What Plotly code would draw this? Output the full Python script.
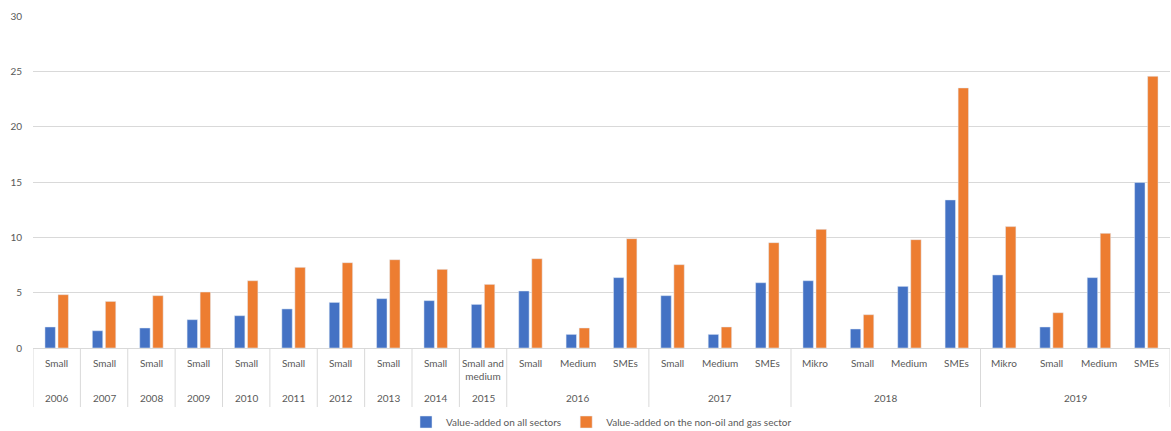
import plotly.graph_objects as go

years = ["2006", "2007", "2008", "2009", "2010", "2011", "2012", "2013", "2014", "2015",
         "2016", "2016", "2016", "2017", "2017", "2017",
         "2018", "2018", "2018", "2018", "2019", "2019", "2019", "2019"]
sizes = ["Small", "Small", "Small", "Small", "Small", "Small", "Small", "Small", "Small", "Small and<br>medium",
         "Small", "Medium", "SMEs", "Small", "Medium", "SMEs",
         "Mikro", "Small", "Medium", "SMEs", "Mikro", "Small", "Medium", "SMEs"]
all_sectors = [1.9, 1.56, 1.81, 2.56, 2.92, 3.53, 4.12, 4.46, 4.28, 3.94,
               5.15, 1.23, 6.36, 4.73, 1.23, 5.9,
               6.08, 1.72, 5.57, 13.38, 6.6, 1.9, 6.36, 14.95]
non_oil_gas = [4.82, 4.21, 4.73, 5.06, 6.08, 7.29, 7.71, 7.98, 7.11, 5.75,
               8.07, 1.81, 9.88, 7.53, 1.9, 9.52,
               10.72, 3.01, 9.79, 23.5, 10.97, 3.19, 10.36, 24.55]
series_names = ["Value-added on all sectors", "Value-added on the non-oil and gas sector"]

idx = list(range(len(years)))
FONT = "Lato"
TXT = "#595959"
GRID = "#D9D9D9"

fig = go.Figure()
fig.add_trace(go.Bar(x=idx, y=all_sectors, name=series_names[0], marker_color="#4472C4"))
fig.add_trace(go.Bar(x=idx, y=non_oil_gas, name=series_names[1], marker_color="#ED7D31"))

plot_h = 332.0
def py(px_below):
    return -px_below / plot_h

annotations = []
shapes = []
for i, s in enumerate(sizes):
    two = "<br>" in s
    annotations.append(dict(x=i, xref="x", y=py(14.7 + (7 if two else 0)), yref="paper",
                            text=s, showarrow=False, yanchor="middle",
                            font=dict(family=FONT, size=10, color=TXT)))

# group years
groups = []
start = 0
for i in range(1, len(years) + 1):
    if i == len(years) or years[i] != years[start]:
        groups.append((years[start], start, i - 1))
        start = i
for y, a, b in groups:
    annotations.append(dict(x=(a + b) / 2, xref="x", y=py(50.3), yref="paper",
                            text=y, showarrow=False, yanchor="middle",
                            font=dict(family=FONT, size=10, color=TXT)))
    shapes.append(dict(type="line", xref="x", yref="paper", x0=a - 0.5, x1=a - 0.5,
                       y0=0, y1=py(59), line=dict(color=GRID, width=1)))
shapes.append(dict(type="line", xref="x", yref="paper", x0=len(years) - 0.5, x1=len(years) - 0.5,
                   y0=0, y1=py(59), line=dict(color=GRID, width=1)))

fig.update_layout(
    width=1171, height=431,
    margin=dict(l=33, r=1, t=16, b=83, autoexpand=False),
    paper_bgcolor="white", plot_bgcolor="white",
    barmode="group", bargap=0.45, bargroupgap=0.2,
    font=dict(family=FONT, size=10, color=TXT),
    xaxis=dict(range=[-0.5, len(years) - 0.5], showticklabels=False, showgrid=False,
               zeroline=False, showline=True, linecolor=GRID, linewidth=1, ticks=""),
    yaxis=dict(range=[0, 30], tickvals=[0, 5, 10, 15, 20, 25, 30], showgrid=True,
               gridcolor=GRID, gridwidth=1, zeroline=False, showline=False,
               ticklabelstandoff=10, tickfont=dict(family=FONT, size=10, color=TXT)),
    legend=dict(orientation="h", x=0.5, xanchor="center", y=py(74), yanchor="middle",
                font=dict(family=FONT, size=10, color=TXT), itemwidth=30,
                traceorder="normal"),
    annotations=annotations, shapes=shapes,
)

fig.write_html("out.html")
